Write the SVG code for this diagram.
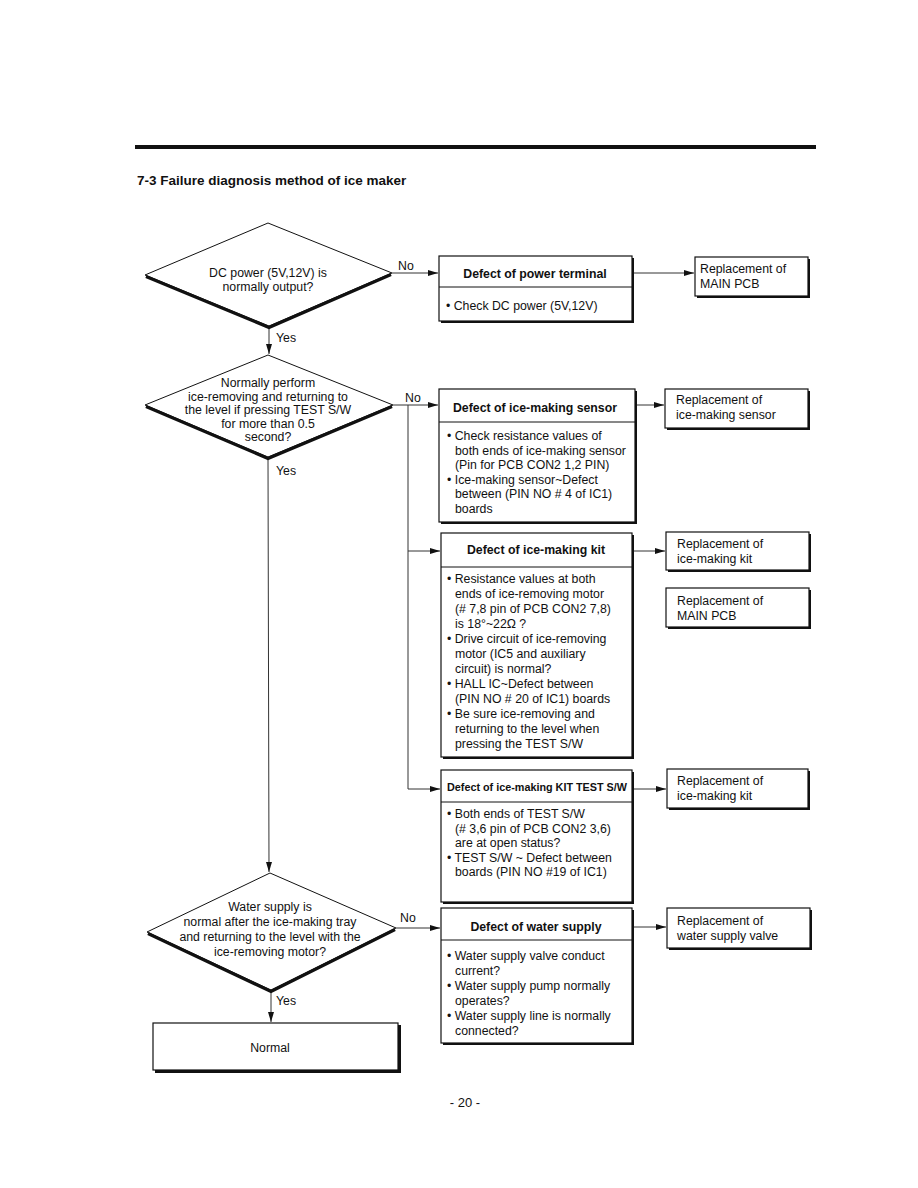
<svg xmlns="http://www.w3.org/2000/svg" width="918" height="1188" viewBox="0 0 918 1188">
<defs>
<marker id="ah" viewBox="0 0 10 6" refX="10" refY="3" markerWidth="10" markerHeight="6" markerUnits="userSpaceOnUse" orient="auto">
<path d="M0,0 L10,3 L0,6 Z" fill="#111"/>
</marker>
</defs>
<style>
text{font-family:"Liberation Sans",Arial,sans-serif;fill:#111;font-size:12.3px}
.b{font-weight:bold}
.c{text-anchor:middle}
.box{fill:#fff;stroke:#111;stroke-width:1.2}
.sh{fill:#111}
.dia{fill:#fff;stroke:#111;stroke-width:1}
.dsh{fill:none;stroke:#111;stroke-width:3.2;stroke-linejoin:miter}
.con{fill:none;stroke:#333;stroke-width:1}
.div{stroke:#111;stroke-width:1}
</style>
<rect width="918" height="1188" fill="#fff"/>
<rect x="135" y="145" width="681" height="4" fill="#111"/>
<text x="137" y="185" class="b" style="font-size:13.5px">7-3 Failure diagnosis method of ice maker</text>

<g id="connectors">
<line class="con" x1="269" y1="327" x2="269" y2="354" marker-end="url(#ah)"/>
<line class="con" x1="268" y1="458" x2="269" y2="872" marker-end="url(#ah)"/>
<line class="con" x1="271" y1="991" x2="271" y2="1022" marker-end="url(#ah)"/>
<line class="con" x1="392" y1="273" x2="438" y2="273" marker-end="url(#ah)"/>
<line class="con" x1="632" y1="273" x2="694" y2="273" marker-end="url(#ah)"/>
<line class="con" x1="393" y1="405" x2="438" y2="405" marker-end="url(#ah)"/>
<polyline class="con" points="408,405 408,789 440,789" marker-end="url(#ah)"/>
<line class="con" x1="408" y1="551" x2="440" y2="551" marker-end="url(#ah)"/>
<line class="con" x1="635" y1="405" x2="664" y2="405" marker-end="url(#ah)"/>
<line class="con" x1="632" y1="551" x2="665" y2="551" marker-end="url(#ah)"/>
<line class="con" x1="632" y1="789" x2="666" y2="789" marker-end="url(#ah)"/>
<line class="con" x1="396" y1="928" x2="440" y2="928" marker-end="url(#ah)"/>
<line class="con" x1="632" y1="927" x2="666" y2="927" marker-end="url(#ah)"/>
<text x="398" y="270">No</text>
<text x="405" y="402">No</text>
<text x="400" y="922">No</text>
<text x="276" y="342">Yes</text>
<text x="276" y="475">Yes</text>
<text x="276" y="1005">Yes</text>
</g>

<g id="d1">
<polygon class="dia" points="268,223 392,273 269,326 145,275"/>
<polyline class="dsh" points="146,276.5 269,327.5 391,274.5"/>
<text x="268" y="277" class="c">DC power (5V,12V) is</text>
<text x="268" y="291" class="c">normally output?</text>
</g>

<g id="d2">
<polygon class="dia" points="268,355 393,405 268,457 145,405"/>
<polyline class="dsh" points="146,406.5 268,458.5 392,406.5"/>
<text x="268" y="387" class="c">Normally perform</text>
<text x="268" y="401" class="c">ice-removing and  returning to</text>
<text x="268" y="414" class="c">the level if pressing TEST S/W</text>
<text x="268" y="428" class="c">for more than 0.5</text>
<text x="268" y="441" class="c">second?</text>
</g>

<g id="d3">
<polygon class="dia" points="270,873 396,928 271,990 147,932"/>
<polyline class="dsh" points="148,933.5 271,991.5 395,929.5"/>
<text x="270" y="911" class="c">Water supply is</text>
<text x="270" y="926" class="c">normal after the ice-making tray</text>
<text x="270" y="941" class="c">and returning to the level with the</text>
<text x="270" y="956" class="c">ice-removing motor?</text>
</g>

<g id="normal">
<rect class="sh" x="155" y="1025" width="246" height="48"/>
<rect class="box" x="153" y="1023" width="245" height="47"/>
<text x="270" y="1052" class="c">Normal</text>
</g>

<g id="box1">
<rect class="sh" x="441" y="258" width="193" height="65"/>
<rect class="box" x="439" y="256" width="193" height="65"/>
<line class="div" x1="439" y1="287" x2="632" y2="287"/>
<text x="535" y="278" class="c b">Defect of power terminal</text>
<text x="446" y="310">• Check DC power (5V,12V)</text>
</g>

<g id="r1">
<rect class="sh" x="697" y="259" width="113" height="39"/>
<rect class="box" x="695" y="257" width="113" height="39"/>
<text x="700" y="273">Replacement of</text>
<text x="700" y="288">MAIN PCB</text>
</g>

<g id="box2">
<rect class="sh" x="441" y="391" width="196" height="133"/>
<rect class="box" x="439" y="389" width="196" height="133"/>
<line class="div" x1="439" y1="422" x2="635" y2="422"/>
<text x="535" y="412" class="c b">Defect of ice-making sensor</text>
<text x="447" y="440">• Check resistance values of</text>
<text x="455" y="454.5">both ends of ice-making sensor</text>
<text x="455" y="469">(Pin for PCB CON2  1,2 PIN)</text>
<text x="447" y="483.5">• Ice-making sensor~Defect</text>
<text x="455" y="498">between (PIN NO # 4 of IC1)</text>
<text x="455" y="512.5">boards</text>
</g>

<g id="r2">
<rect class="sh" x="667" y="391" width="143" height="39"/>
<rect class="box" x="665" y="389" width="143" height="39"/>
<text x="676" y="404">Replacement of</text>
<text x="676" y="419">ice-making sensor</text>
</g>

<g id="box3">
<rect class="sh" x="443" y="535" width="191" height="224"/>
<rect class="box" x="441" y="533" width="191" height="224"/>
<line class="div" x1="441" y1="567" x2="632" y2="567"/>
<text x="536" y="554" class="c b">Defect of ice-making kit</text>
<text x="447" y="583">• Resistance values at both</text>
<text x="455" y="598">ends of ice-removing motor</text>
<text x="455" y="613">(# 7,8 pin of PCB CON2 7,8)</text>
<text x="455" y="628">is 18°~22Ω ?</text>
<text x="447" y="643">• Drive circuit of ice-removing</text>
<text x="455" y="658">motor (IC5 and auxiliary</text>
<text x="455" y="673">circuit) is normal?</text>
<text x="447" y="688">• HALL IC~Defect  between</text>
<text x="455" y="703">(PIN NO # 20 of IC1) boards</text>
<text x="447" y="718">• Be sure ice-removing and</text>
<text x="455" y="733">returning to  the level when</text>
<text x="455" y="748">pressing the TEST S/W</text>
</g>

<g id="r3">
<rect class="sh" x="668" y="534" width="143" height="38"/>
<rect class="box" x="666" y="532" width="143" height="38"/>
<text x="677" y="548">Replacement of</text>
<text x="677" y="563">ice-making kit</text>
</g>

<g id="r4">
<rect class="sh" x="668" y="590" width="143" height="39"/>
<rect class="box" x="666" y="588" width="143" height="39"/>
<text x="677" y="605">Replacement of</text>
<text x="677" y="620">MAIN PCB</text>
</g>

<g id="box4">
<rect class="sh" x="443" y="772" width="191" height="132"/>
<rect class="box" x="441" y="770" width="191" height="132"/>
<line class="div" x1="441" y1="802" x2="632" y2="802"/>
<text x="447" y="791" class="b" style="font-size:11px" textLength="180" lengthAdjust="spacingAndGlyphs">Defect of ice-making KIT TEST S/W</text>
<text x="447" y="818">• Both ends of TEST S/W</text>
<text x="455" y="832.5">(# 3,6 pin of PCB  CON2  3,6)</text>
<text x="455" y="847">are at open status?</text>
<text x="447" y="861.5">• TEST S/W ~ Defect between</text>
<text x="455" y="876">boards (PIN NO #19 of IC1)</text>
</g>

<g id="r5">
<rect class="sh" x="669" y="771" width="141" height="39"/>
<rect class="box" x="667" y="769" width="141" height="39"/>
<text x="677" y="785">Replacement of</text>
<text x="677" y="800">ice-making kit</text>
</g>

<g id="box5">
<rect class="sh" x="443" y="910" width="191" height="135"/>
<rect class="box" x="441" y="908" width="191" height="135"/>
<line class="div" x1="441" y1="940" x2="632" y2="940"/>
<text x="536" y="931" class="c b">Defect of water supply</text>
<text x="447" y="960">• Water supply valve conduct</text>
<text x="455" y="975">current?</text>
<text x="447" y="990">• Water supply pump normally</text>
<text x="455" y="1005">operates?</text>
<text x="447" y="1020">• Water supply line is normally</text>
<text x="455" y="1035">connected?</text>
</g>

<g id="r6">
<rect class="sh" x="669" y="910" width="143" height="40"/>
<rect class="box" x="667" y="908" width="143" height="40"/>
<text x="677" y="925">Replacement of</text>
<text x="677" y="940">water supply valve</text>
</g>

<text x="465" y="1107" class="c" style="font-size:13px">- 20 -</text>
</svg>
